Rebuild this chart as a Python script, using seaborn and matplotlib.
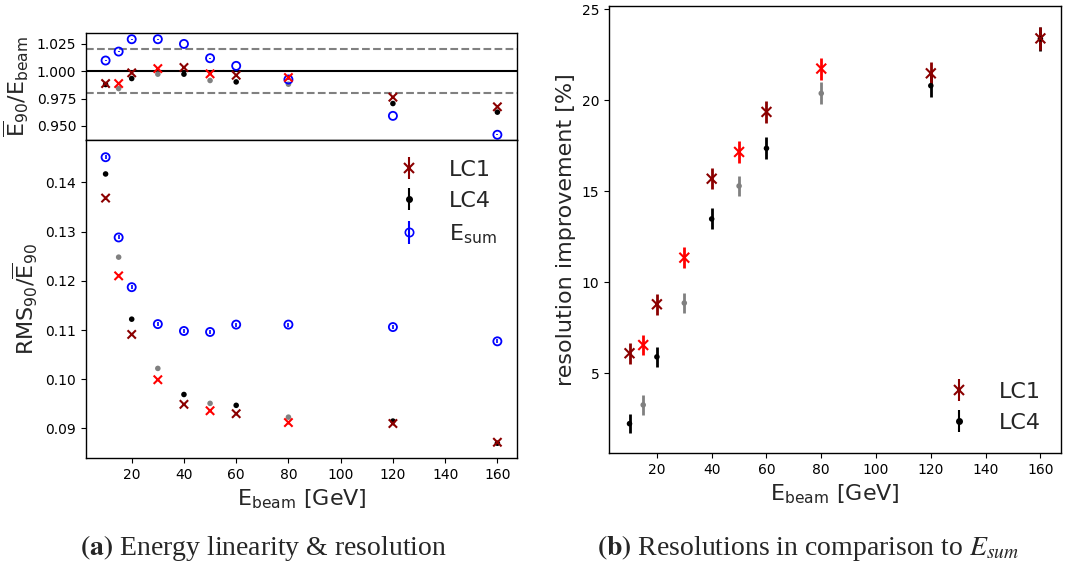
import numpy as np
import pandas as pd
import matplotlib
matplotlib.use('Agg')
import matplotlib.pyplot as plt
import seaborn as sns

# beam energies [GeV] and the alternating shade used for each point
energy = [10, 15, 20, 30, 40, 50, 60, 80, 120, 160]
shade = ['dark', 'light', 'dark', 'light', 'dark', 'light', 'dark', 'light', 'dark', 'dark']

# linearity E90 / Ebeam
lin_lc1 = [0.9887, 0.9887, 0.9985, 1.0024, 1.0034, 0.9976, 0.9963, 0.9942, 0.9762, 0.9674]
lin_lc4 = [0.9878, 0.9841, 0.9933, 0.9973, 0.9973, 0.9915, 0.9902, 0.9881, 0.9704, 0.9625]
lin_esum = [1.0098, 1.0180, 1.0293, 1.0293, 1.0250, 1.0119, 1.0049, 0.9924, 0.9591, 0.9418]
lin_err = [0.0003, 0.0003, 0.0003, 0.0003, 0.0003, 0.0003, 0.0003, 0.0003, 0.0003, 0.0003]

# resolution RMS90 / E90
res_lc1 = [0.1368, 0.1210, 0.1091, 0.0999, 0.0949, 0.0936, 0.0930, 0.0912, 0.0910, 0.0872]
res_lc4 = [0.1417, 0.1248, 0.1122, 0.1022, 0.0969, 0.0951, 0.0947, 0.0923, 0.0915, 0.0870]
res_esum = [0.1451, 0.1288, 0.1187, 0.1112, 0.1098, 0.1096, 0.1111, 0.1111, 0.1106, 0.1077]
res_lc_err = [0.0002, 0.0002, 0.0002, 0.0002, 0.0002, 0.0002, 0.0002, 0.0002, 0.0002, 0.0002]
res_esum_err = [0.0004, 0.0004, 0.0004, 0.0004, 0.0004, 0.0004, 0.0004, 0.0004, 0.0004, 0.0004]

# resolution improvement w.r.t. Esum [%]
imp_lc1 = [6.10, 6.55, 8.79, 11.35, 15.69, 17.16, 19.36, 21.74, 21.48, 23.40]
imp_lc4 = [2.23, 3.26, 5.90, 8.86, 13.48, 15.29, 17.36, 20.38, 20.80, 23.38]
imp_lc1_err = [0.57, 0.55, 0.58, 0.58, 0.59, 0.58, 0.60, 0.60, 0.60, 0.62]
imp_lc4_err = [0.53, 0.55, 0.55, 0.56, 0.58, 0.57, 0.60, 0.60, 0.62, 0.65]

LC1_COLORS = {'dark': 'darkred', 'light': 'red'}
LC4_COLORS = {'dark': 'black', 'light': 'gray'}

sns.set_theme(style='ticks')
plt.rcParams['font.family'] = ['DejaVu Sans']
plt.rcParams['mathtext.default'] = 'regular'
plt.rcParams['axes.edgecolor'] = 'black'
plt.rcParams['axes.linewidth'] = 1.0
for k in ['xtick', 'ytick']:
    plt.rcParams[k + '.major.size'] = 3.5
    plt.rcParams[k + '.major.width'] = 0.8
    plt.rcParams[k + '.labelsize'] = 10
    plt.rcParams[k + '.color'] = 'black'


def draw_series(ax, y, yerr, marker, colors, size, lw, elw):
    df = pd.DataFrame({'energy': energy, 'value': y, 'err': yerr, 'shade': shade})
    for key, c in colors.items():
        sel = df[df['shade'] == key]
        ax.errorbar(sel['energy'], sel['value'], yerr=sel['err'], fmt='none',
                    ecolor=c, elinewidth=elw, zorder=2)
    kws = dict(linewidth=lw)
    if marker != 'x':
        kws = dict(linewidth=0, edgecolor='none')
    sns.scatterplot(data=df, x='energy', y='value', hue='shade', palette=colors,
                    marker=marker, s=size, legend=False, ax=ax, zorder=3, **kws)


def draw_esum(ax, y, yerr):
    ax.errorbar(energy, y, yerr=yerr, fmt='none', ecolor='blue', elinewidth=1.2, zorder=2)
    sns.scatterplot(x=energy, y=y, marker='o', s=34, facecolor='none',
                    edgecolor='blue', linewidth=1.3, ax=ax, zorder=3)


def legend_handles(ax, with_esum):
    h1 = ax.errorbar([np.nan], [np.nan], yerr=[0.01], fmt='x', color='darkred',
                     ms=7, mew=1.5, elinewidth=1.5, label='LC1')
    h2 = ax.errorbar([np.nan], [np.nan], yerr=[0.01], fmt='.', color='black',
                     ms=8, elinewidth=1.5, label='LC4')
    hs = [h1, h2]
    if with_esum:
        h3 = ax.errorbar([np.nan], [np.nan], yerr=[0.01], fmt='o', color='blue',
                         mfc='none', ms=6, mew=1.2, elinewidth=1.5, label='$E_{sum}$')
        hs.append(h3)
    return hs


fig = plt.figure(figsize=(10.71, 5.70), dpi=100)
ax_lin = fig.add_axes([0.0803, 0.7544, 0.4024, 0.1877])
ax_res = fig.add_axes([0.0803, 0.1965, 0.4024, 0.5579])
ax_imp = fig.add_axes([0.5686, 0.2053, 0.4220, 0.7842])

# linearity
ax_lin.axhline(1.0, color='black', lw=1.5, zorder=1)
ax_lin.axhline(1.02, color='gray', lw=1.5, ls='--', zorder=1)
ax_lin.axhline(0.98, color='gray', lw=1.5, ls='--', zorder=1)
draw_series(ax_lin, lin_lc4, lin_err, 'o', LC4_COLORS, 16, 0, 1.0)
draw_esum(ax_lin, lin_esum, lin_err)
draw_series(ax_lin, lin_lc1, lin_err, 'x', LC1_COLORS, 36, 1.5, 1.0)
ax_lin.set_xlim(2.5, 167.5)
ax_lin.set_ylim(0.937, 1.035)
ax_lin.set_yticks([0.950, 0.975, 1.000, 1.025])
ax_lin.set_yticklabels(['0.950', '0.975', '1.000', '1.025'])
ax_lin.tick_params(axis='x', bottom=False, labelbottom=False)
ax_lin.set_xlabel('')
ax_lin.set_ylabel(r'$\overline{E}_{90}/E_{beam}$', fontsize=16)

# resolution
draw_series(ax_res, res_lc4, res_lc_err, 'o', LC4_COLORS, 16, 0, 1.0)
draw_esum(ax_res, res_esum, res_esum_err)
draw_series(ax_res, res_lc1, res_lc_err, 'x', LC1_COLORS, 36, 1.5, 1.0)
ax_res.set_xlim(2.5, 167.5)
ax_res.set_ylim(0.084, 0.1486)
ax_res.set_yticks([0.09, 0.10, 0.11, 0.12, 0.13, 0.14])
ax_res.set_xticks([20, 40, 60, 80, 100, 120, 140, 160])
ax_res.set_xlabel('$E_{beam}$ [GeV]', fontsize=16)
ax_res.set_ylabel(r'$RMS_{90}/\overline{E}_{90}$', fontsize=16)
ax_res.legend(handles=legend_handles(ax_res, True), loc='upper right',
              frameon=False, fontsize=16)

# improvement
draw_series(ax_imp, imp_lc4, imp_lc4_err, 'o', LC4_COLORS, 16, 0, 2.0)
draw_series(ax_imp, imp_lc1, imp_lc1_err, 'x', LC1_COLORS, 50, 1.5, 2.0)
ax_imp.set_xlim(2.5, 167.5)
ax_imp.set_ylim(0.62, 25.18)
ax_imp.set_yticks([5, 10, 15, 20, 25])
ax_imp.set_xticks([20, 40, 60, 80, 100, 120, 140, 160])
ax_imp.set_xlabel('$E_{beam}$ [GeV]', fontsize=16)
ax_imp.set_ylabel('resolution improvement [%]', fontsize=16)
ax_imp.legend(handles=legend_handles(ax_imp, False), loc='lower right',
              frameon=False, fontsize=16)

fig.text(0.246, 0.039, r'$\mathbf{(a)}$ Energy linearity & resolution',
         ha='center', va='center', fontsize=20, family='Liberation Serif',
         math_fontfamily='stix')
fig.text(0.755, 0.039, r'$\mathbf{(b)}$ Resolutions in comparison to $\mathit{E}_{\mathit{sum}}$',
         ha='center', va='center', fontsize=20, family='Liberation Serif',
         math_fontfamily='stix')

fig.savefig('out.png', dpi=100)
